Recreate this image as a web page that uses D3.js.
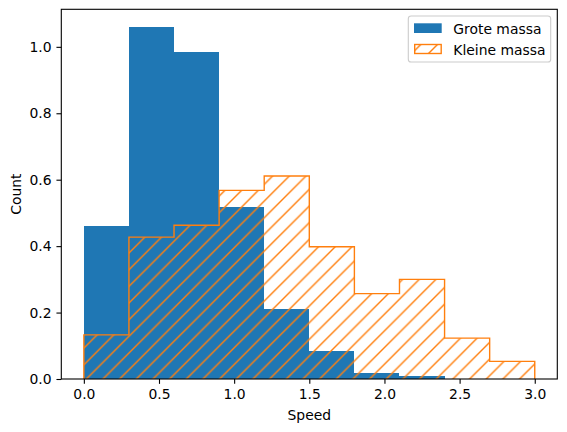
<!DOCTYPE html>
<html>
<head>
<meta charset="utf-8">
<script src="https://cdn.jsdelivr.net/npm/d3@7"></script>
<style>
html,body{margin:0;padding:0;background:#fff;}
svg{display:block;}
text{font-family:"DejaVu Sans",sans-serif;}
</style>
</head>
<body>
<svg id="chart" width="567" height="432"></svg>
<script>
const binEdgesGrote = [0.0,0.3,0.6,0.9,1.2,1.5,1.8,2.1,2.4];
const groteMassa = [0.461,1.060,0.985,0.518,0.211,0.085,0.019,0.009];
const binEdgesKleine = [0.0,0.3,0.6,0.9,1.2,1.5,1.8,2.1,2.4,2.7,3.0];
const kleineMassa = [0.133,0.427,0.463,0.568,0.611,0.398,0.257,0.300,0.123,0.053];
const xTicks = [0.0,0.5,1.0,1.5,2.0,2.5,3.0];
const yTicks = [0.0,0.2,0.4,0.6,0.8,1.0];
const seriesNames = ["Grote massa","Kleine massa"];

const W=567,H=432;
const L=61.3,R=557.3,T=9.3,B=379;
const blue="#1f77b4", orange="#ff7f0e";
const svg=d3.select("#chart");
const x=d3.scaleLinear().domain([-0.15,3.15]).range([L,R]);
const y=d3.scaleLinear().domain([0,1.113]).range([B,T]);

// hatch pattern
const s=100/6;
const defs=svg.append("defs");
const pat=defs.append("pattern").attr("id","hatch").attr("patternUnits","userSpaceOnUse")
  .attr("width",s).attr("height",s).attr("x",15.33).attr("y",0);
pat.append("path").attr("d",`M0,${s} L${s},0 M${-2},2 L2,${-2} M${s-2},${s+2} L${s+2},${s-2}`)
  .attr("stroke",orange).attr("stroke-width",1.39).attr("fill","none");

const g=svg.append("g");
// blue bars
g.selectAll("rect.blue").data(groteMassa).enter().append("rect")
  .attr("x",(d,i)=>x(binEdgesGrote[i]))
  .attr("width",(d,i)=>x(binEdgesGrote[i+1])-x(binEdgesGrote[i]))
  .attr("y",d=>y(d)).attr("height",d=>y(0)-y(d))
  .attr("fill",blue).attr("shape-rendering","crispEdges");

// orange step
const pts=[[binEdgesKleine[0],0]];
kleineMassa.forEach((v,i)=>{pts.push([binEdgesKleine[i],v]);pts.push([binEdgesKleine[i+1],v]);});
pts.push([binEdgesKleine[binEdgesKleine.length-1],0]);
const line=d3.line().x(d=>x(d[0])).y(d=>y(d[1]));
g.append("path").attr("d",line(pts)+"Z").attr("fill","url(#hatch)").attr("stroke","none");
g.append("path").attr("d",line(pts)).attr("fill","none").attr("stroke",orange).attr("stroke-width",1.39).attr("stroke-linejoin","miter");

// axes
const xa=svg.append("g").attr("transform",`translate(0,${B})`)
  .call(d3.axisBottom(x).tickValues(xTicks).tickFormat(d3.format(".1f")).tickSizeInner(4.86).tickSizeOuter(0).tickPadding(4.86));
const ya=svg.append("g").attr("transform",`translate(${L},0)`)
  .call(d3.axisLeft(y).tickValues(yTicks).tickFormat(d3.format(".1f")).tickSizeInner(4.86).tickSizeOuter(0).tickPadding(4.86));
[xa,ya].forEach(a=>{
  a.select(".domain").remove();
  a.selectAll(".tick line").attr("stroke","#000").attr("stroke-width",1.1);
  a.selectAll(".tick text").attr("font-size","13.9px").attr("fill","#000").attr("font-family","DejaVu Sans");
});
// frame
svg.append("rect").attr("x",L).attr("y",T).attr("width",R-L).attr("height",B-T)
  .attr("fill","none").attr("stroke","#000").attr("stroke-width",1.1);

svg.append("text").attr("x",(L+R)/2).attr("y",420).attr("text-anchor","middle")
  .attr("font-size","13.9px").text("Speed");
svg.append("text").attr("transform",`translate(21,${(T+B)/2}) rotate(-90)`).attr("text-anchor","middle")
  .attr("font-size","13.9px").text("Count");

// legend
const lg=svg.append("g");
lg.append("rect").attr("x",408.3).attr("y",16).attr("width",142.4).attr("height",46).attr("rx",2.8)
  .attr("fill","rgba(255,255,255,0.8)").attr("stroke","#cccccc").attr("stroke-width",1.1);
lg.append("rect").attr("x",414).attr("y",23.3).attr("width",27.7).attr("height",9.7).attr("fill",blue);
lg.append("rect").attr("x",414.7).attr("y",44.5).attr("width",26.5).attr("height",9).attr("fill","url(#hatch)")
  .attr("stroke",orange).attr("stroke-width",1.39);
lg.selectAll("text.lt").data(seriesNames).enter().append("text")
  .attr("x",453.3).attr("y",(d,i)=>34.3+i*20.2).attr("font-size","13.9px").attr("fill","#000").text(d=>d);
</script>
</body>
</html>
